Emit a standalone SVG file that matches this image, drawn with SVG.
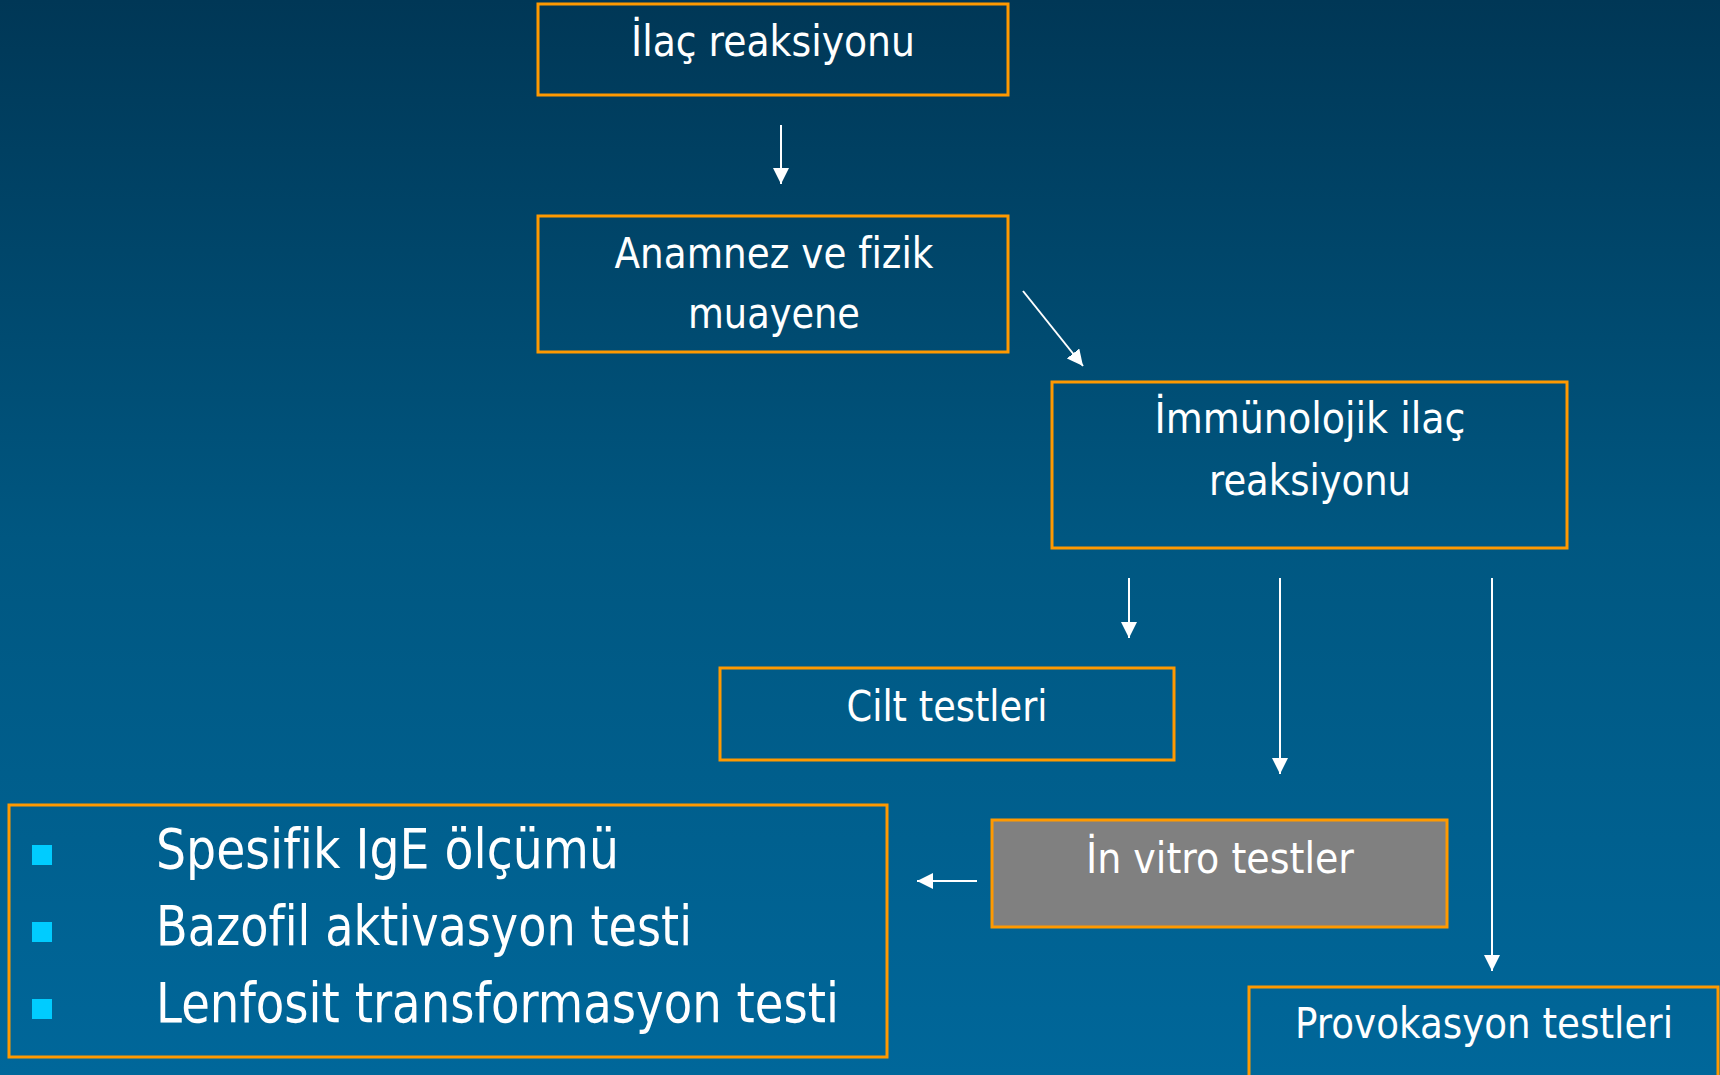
<svg xmlns="http://www.w3.org/2000/svg" width="1720" height="1075" viewBox="0 0 1720 1075">
  <defs>
    <linearGradient id="bg" x1="0" y1="0" x2="0" y2="1">
      <stop offset="0" stop-color="#003756"/>
      <stop offset="0.5" stop-color="#005781"/>
      <stop offset="1" stop-color="#00679A"/>
    </linearGradient>
    <marker id="head" viewBox="0 0 16 16" refX="16" refY="8" markerWidth="16" markerHeight="16" markerUnits="userSpaceOnUse" orient="auto">
      <path d="M0,0 L16,8 L0,16 Z" fill="#ffffff"/>
    </marker>
  </defs>
  <style>
    .box { fill: none; stroke: #FF9900; stroke-width: 3; }
    .grey { fill: #808080; stroke: #FF9900; stroke-width: 3; }
    .lbl { font-family: "DejaVu Sans", "Noto Sans", sans-serif; font-size: 42px; fill: #ffffff; text-anchor: middle; font-variant-ligatures: none; }
    .big { font-family: "DejaVu Sans", "Noto Sans", sans-serif; font-size: 55px; fill: #ffffff; font-variant-ligatures: none; }
    .bullet { fill: #00CCFF; }
    .conn line { stroke: #ffffff; stroke-width: 2; marker-end: url(#head); }
  </style>

  <rect x="0" y="0" width="1720" height="1075" fill="url(#bg)"/>

  <g id="ilac-reaksiyonu">
    <rect class="box" x="538" y="4" width="470" height="91"/>
    <text class="lbl" x="773" y="56" textLength="284" lengthAdjust="spacingAndGlyphs">İlaç reaksiyonu</text>
  </g>

  <g id="anamnez">
    <rect class="box" x="538" y="216" width="470" height="136"/>
    <text class="lbl" x="774" y="268" textLength="319" lengthAdjust="spacingAndGlyphs">Anamnez ve fizik</text>
    <text class="lbl" x="774" y="328" textLength="172" lengthAdjust="spacingAndGlyphs">muayene</text>
  </g>

  <g id="immunolojik">
    <rect class="box" x="1052" y="382" width="515" height="166"/>
    <text class="lbl" x="1310" y="433" textLength="311" lengthAdjust="spacingAndGlyphs">İmmünolojik ilaç</text>
    <text class="lbl" x="1310" y="495" textLength="202" lengthAdjust="spacingAndGlyphs">reaksiyonu</text>
  </g>

  <g id="cilt-testleri">
    <rect class="box" x="720" y="668" width="454" height="92"/>
    <text class="lbl" x="947" y="721" textLength="201" lengthAdjust="spacingAndGlyphs">Cilt testleri</text>
  </g>

  <g id="in-vitro">
    <rect class="grey" x="992" y="820" width="455" height="107"/>
    <text class="lbl" x="1220" y="873" textLength="268" lengthAdjust="spacingAndGlyphs">İn vitro testler</text>
  </g>

  <g id="provokasyon">
    <rect class="box" x="1249" y="987" width="469" height="100"/>
    <text class="lbl" x="1484" y="1038" textLength="378" lengthAdjust="spacingAndGlyphs">Provokasyon testleri</text>
  </g>

  <g id="in-vitro-list">
    <rect class="box" x="9" y="805" width="878" height="252"/>
    <rect class="bullet" x="32" y="845" width="20" height="20"/>
    <rect class="bullet" x="32" y="922" width="20" height="20"/>
    <rect class="bullet" x="32" y="999" width="20" height="20"/>
    <text class="big" x="156" y="868" textLength="463" lengthAdjust="spacingAndGlyphs">Spesifik IgE ölçümü</text>
    <text class="big" x="156" y="945" textLength="536" lengthAdjust="spacingAndGlyphs">Bazofil aktivasyon testi</text>
    <text class="big" x="156" y="1022" textLength="683" lengthAdjust="spacingAndGlyphs">Lenfosit transformasyon testi</text>
  </g>

  <g id="connectors" class="conn">
    <line x1="781" y1="125" x2="781" y2="184"/>
    <line x1="1023" y1="291" x2="1083" y2="366"/>
    <line x1="1129" y1="578" x2="1129" y2="638"/>
    <line x1="1280" y1="578" x2="1280" y2="774"/>
    <line x1="1492" y1="578" x2="1492" y2="971"/>
    <line x1="977" y1="881" x2="917" y2="881"/>
  </g>
</svg>
